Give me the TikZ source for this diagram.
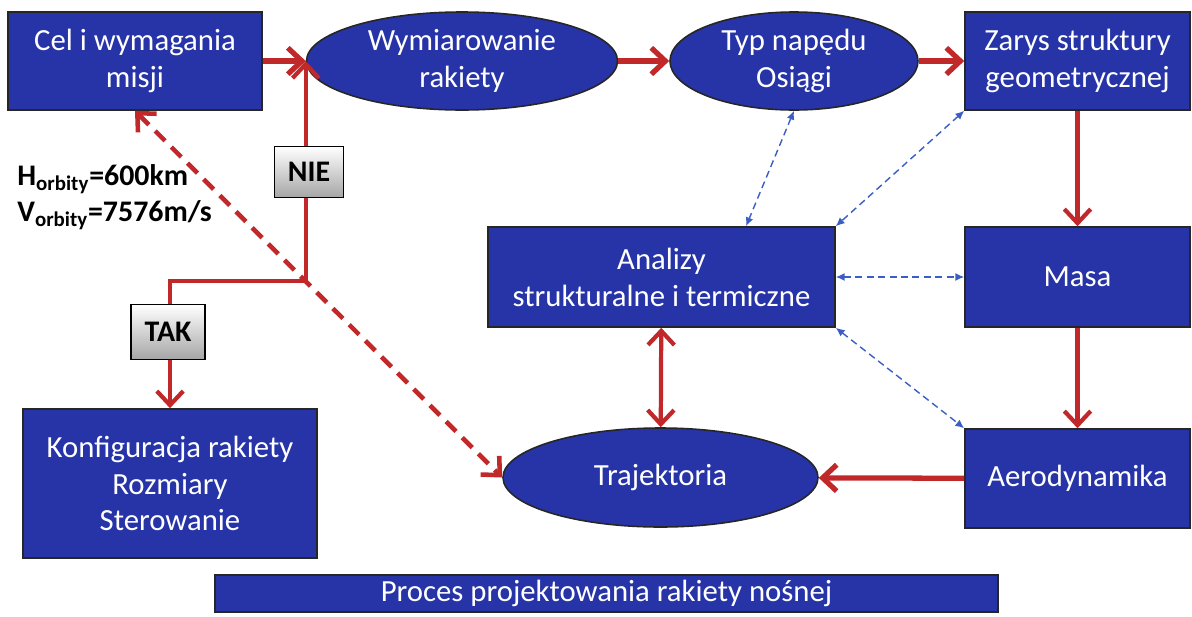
\documentclass[tikz,border=0pt]{standalone}
\usepackage{fontspec}
\setmainfont{Carlito}
\usetikzlibrary{arrows.meta,shapes.geometric}
\definecolor{boxBlue}{HTML}{2634A8}
\definecolor{flowRed}{HTML}{C0282A}
\definecolor{linkBlue}{HTML}{3A5EC4}

\begin{document}
\begin{tikzpicture}[>=Latex,
    stage/.style={draw=black!85,line width=0.9pt,fill=boxBlue,text=white,align=center,font=\fontsize{17.5}{21}\selectfont,inner sep=2pt},
    block/.style={stage,rectangle},
    oval/.style={stage,ellipse,inner sep=0pt},
    answer/.style={draw=black,line width=0.8pt,top color=white,bottom color=black!35,font=\fontsize{17}{20}\bfseries\selectfont,inner sep=0pt},
    barb/.tip={Straight Barb[length=8pt,width=15pt]},
    flow/.style={-barb,line width=2.4pt,flowRed},
    twoway/.style={barb-barb,line width=2.4pt,flowRed},
    backflow/.style={barb-barb,line width=2.6pt,flowRed,dash pattern=on 8pt off 5pt},
    link/.style={{Latex[length=5pt,width=4.5pt]}-{Latex[length=5pt,width=4.5pt]},dash pattern=on 4pt off 2.5pt,line width=0.8pt,linkBlue}]
  \useasboundingbox (0,0) rectangle (23.84,-12.32);
  \node[block,minimum width=5.08cm,minimum height=1.96cm] (cel) at (2.70,-1.22) {Cel i wymagania\\misji};
  \node[oval,minimum width=6.22cm,minimum height=1.96cm] (wym) at (9.24,-1.22) {Wymiarowanie\\rakiety};
  \node[oval,minimum width=4.96cm,minimum height=1.96cm] (typ) at (15.88,-1.22) {Typ napędu\\Osiągi};
  \node[block,minimum width=4.50cm,minimum height=1.96cm] (zarys) at (21.55,-1.22) {Zarys struktury\\geometrycznej};
  \node[block,minimum width=6.94cm,minimum height=2.00cm] (analizy) at (13.23,-5.54) {Analizy\\strukturalne i termiczne};
  \node[block,minimum width=4.50cm,minimum height=2.00cm] (masa) at (21.55,-5.54) {Masa};
  \node[block,minimum width=4.50cm,minimum height=1.98cm] (aero) at (21.55,-9.57) {Aerodynamika};
  \node[oval,minimum width=6.30cm,minimum height=1.98cm] (traj) at (13.21,-9.55) {Trajektoria};
  \node[block,minimum width=5.88cm,minimum height=2.98cm] (konf) at (3.40,-9.67) {Konfiguracja rakiety\\Rozmiary\\Sterowanie};
  \node[block,minimum width=15.66cm,minimum height=0.74cm,inner sep=0pt] (title) at (12.13,-11.87) {Proces projektowania rakiety nośnej};
  \node[font=\fontsize{17}{20.5}\bfseries\selectfont,align=left,anchor=west,inner sep=0pt] (orbit) at (0.34,-3.94)
    {H\textsubscript{orbity}=600km\\V\textsubscript{orbity}=7576m/s};
  \path (wym.west) ++(0,-4.40) coordinate (dec);
  \draw[flow,line width=3pt] (cel) -- (wym);
  \draw[flow,line width=3pt] (wym) -- (typ);
  \draw[flow,line width=3pt] (typ) -- (zarys);
  \draw[flow] (zarys) -- (masa);
  \draw[flow] (masa) -- (aero);
  \draw[flow,line width=3pt] (aero) -- (traj);
  \draw[twoway] (analizy) -- (traj);
  \draw[backflow] (cel.south) -- (traj.west);
  \draw[flow] (dec) -- (wym.west);
  \draw[flow] (dec) -| (konf.north);
  \draw[link] (typ.south) -- (analizy.31);
  \draw[link] (zarys.south west) -- (analizy.north east);
  \draw[link] (analizy.east) -- (masa.west);
  \draw[link] (analizy.south east) -- (aero.north west);
  \node[answer,minimum width=1.38cm,minimum height=1.02cm] (nie) at (6.18,-3.44) {NIE};
  \node[answer,minimum width=1.48cm,minimum height=1.10cm] (tak) at (3.36,-6.64) {TAK};
\end{tikzpicture}
\end{document}
